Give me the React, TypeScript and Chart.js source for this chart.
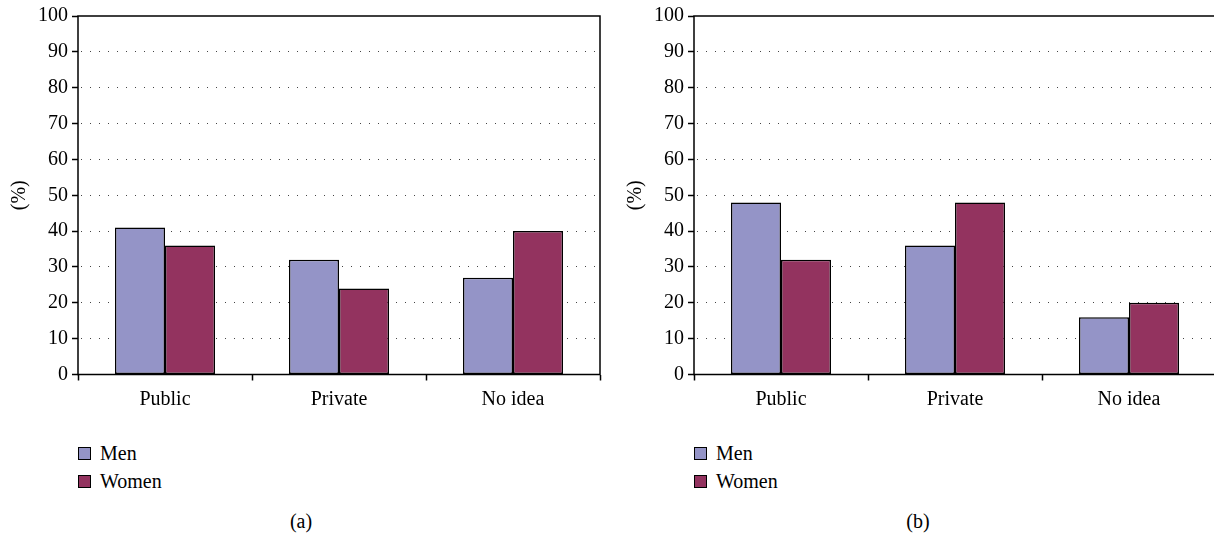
import React, { useEffect, useRef } from "react";
import { Chart, registerables } from "chart.js";

Chart.register(...registerables);

// ---- data ----
const categories = ["Public", "Private", "No idea"];
const seriesNames = ["Men", "Women"];
const menA = [41, 32, 27];
const womenA = [36, 24, 40];
const menB = [48, 36, 16];
const womenB = [32, 48, 20];
const yMin = 0;
const yMax = 100;
const yStep = 10;
const axisTitle = "(%)";
const captions = ["(a)", "(b)"];

// ---- styles ----
const FONT = "'Times New Roman', 'Liberation Serif', 'DejaVu Serif', Times, serif";
const MEN_COLOR = "#9494C7";
const WOMEN_COLOR = "#93335F";
const colors = [MEN_COLOR, WOMEN_COLOR];

const boxPlugin = {
  id: "boxPlugin",
  afterDatasetsDraw(chart: any) {
    const { ctx, chartArea: a } = chart;
    ctx.save();
    ctx.strokeStyle = "#000";
    ctx.lineWidth = 1.5;
    ctx.strokeRect(a.left, a.top, a.right - a.left, a.bottom - a.top);
    ctx.restore();
  },
};

function Panel({ men, women, left, caption, captionX }: any) {
  const ref = useRef<HTMLCanvasElement | null>(null);
  useEffect(() => {
    if (!ref.current) return;
    const chart = new Chart(ref.current, {
      type: "bar",
      data: {
        labels: categories,
        datasets: [
          {
            label: seriesNames[0],
            data: men,
            backgroundColor: MEN_COLOR,
            borderColor: "#000",
            borderWidth: 1.5,
            borderSkipped: false,
            categoryPercentage: 0.575,
            barPercentage: 1.0,
          },
          {
            label: seriesNames[1],
            data: women,
            backgroundColor: WOMEN_COLOR,
            borderColor: "#000",
            borderWidth: 1.5,
            borderSkipped: false,
            categoryPercentage: 0.575,
            barPercentage: 1.0,
          },
        ],
      },
      options: {
        animation: false,
        responsive: false,
        maintainAspectRatio: false,
        layout: { padding: { top: 16, right: 10, left: 0, bottom: 0 } },
        plugins: { legend: { display: false }, tooltip: { enabled: false } },
        scales: {
          x: {
            type: "category",
            offset: true,
            border: { display: false },
            grid: {
              offset: true,
              drawOnChartArea: false,
              drawTicks: true,
              tickLength: 6,
              tickColor: "#000",
              tickWidth: 1.5,
            },
            ticks: {
              color: "#000",
              font: { family: FONT, size: 20 },
              padding: 7,
              maxRotation: 0,
            },
            afterFit: (s: any) => {
              s.height = 45.5;
            },
          },
          y: {
            min: yMin,
            max: yMax,
            border: { display: false, dash: [1, 8], dashOffset: 6 },
            grid: {
              color: (c: any) =>
                c.tick && (c.tick.value === yMin || c.tick.value === yMax)
                  ? "rgba(0,0,0,0)"
                  : "#444",
              lineWidth: 1,
              drawTicks: true,
              tickLength: 6,
              tickColor: "#000",
              tickWidth: 1.5,
              tickBorderDash: [],
            },
            ticks: {
              stepSize: yStep,
              color: "#000",
              font: { family: FONT, size: 20 },
              padding: 4,
            },
            title: {
              display: true,
              text: axisTitle,
              color: "#000",
              font: { family: FONT, size: 20 },
              padding: { top: 8, bottom: 0 },
            },
            afterFit: (s: any) => {
              s.width = 78;
            },
          },
        },
      },
      plugins: [boxPlugin],
    });
    return () => chart.destroy();
  }, []);

  const legendItem = (name: string, color: string, top: number) => (
    <div
      key={name}
      style={{
        position: "absolute",
        left: left + 78,
        top,
        height: 24,
        display: "flex",
        alignItems: "center",
        fontFamily: FONT,
        fontSize: 20,
        color: "#000",
        whiteSpace: "nowrap",
      }}
    >
      <span
        style={{
          display: "inline-block",
          width: 11,
          height: 11,
          border: "1.5px solid #000",
          background: color,
          marginRight: 9,
        }}
      />
      <span>{name}</span>
    </div>
  );

  return (
    <>
      <canvas
        ref={ref}
        width={610}
        height={420}
        style={{ position: "absolute", left, top: 0, width: 610, height: 420 }}
      />
      {legendItem(seriesNames[0], colors[0], 441)}
      {legendItem(seriesNames[1], colors[1], 469)}
      <div
        style={{
          position: "absolute",
          left: captionX - 40,
          width: 80,
          top: 509,
          height: 24,
          lineHeight: "24px",
          textAlign: "center",
          fontFamily: FONT,
          fontSize: 20,
          color: "#000",
        }}
      >
        {caption}
      </div>
    </>
  );
}

export default function App() {
  return (
    <div
      style={{
        position: "absolute",
        left: 0,
        top: 0,
        width: 1214,
        height: 534,
        overflow: "hidden",
        background: "#fff",
      }}
    >
      <Panel men={menA} women={womenA} left={0} caption={captions[0]} captionX={301} />
      <Panel men={menB} women={womenB} left={616} caption={captions[1]} captionX={918} />
    </div>
  );
}
